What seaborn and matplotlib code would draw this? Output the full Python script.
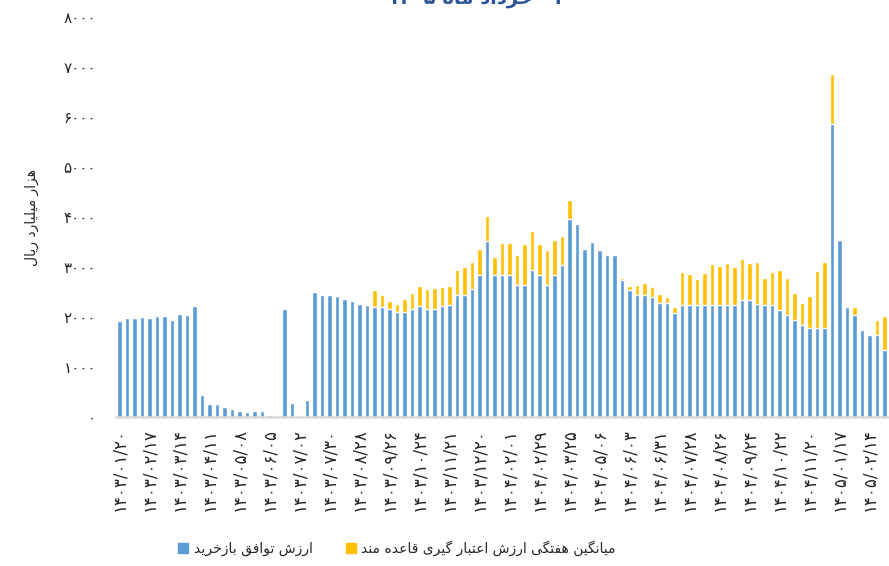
#!/usr/bin/env python3

import numpy as np
import pandas as pd
import seaborn as sns
from matplotlib import pyplot as plt
from matplotlib.patches import Patch


# weekly repo agreement value (blue), thousand billion rials
repo_value = [1920, 1980, 1980, 2000, 1980, 2020, 2030, 1940, 2060, 2040,
              2230, 440, 260, 260, 200, 160, 130, 110, 120, 120,
              50, 20, 2160, 290, 10, 340, 2500, 2440, 2440, 2420,
              2370, 2320, 2270, 2250, 2200, 2200, 2170, 2110, 2110, 2170,
              2220, 2170, 2170, 2220, 2250, 2450, 2450, 2560, 2850, 3530,
              2850, 2850, 2850, 2650, 2650, 2950, 2850, 2650, 2850, 3050,
              3970, 3860, 3360, 3510, 3340, 3250, 3250, 2750, 2550, 2450,
              2450, 2400, 2290, 2290, 2090, 2250, 2250, 2250, 2250, 2250,
              2250, 2250, 2250, 2350, 2350, 2270, 2250, 2250, 2150, 2050,
              1950, 1850, 1790, 1790, 1790, 5860, 3540, 2200, 2050, 1750,
              1650, 1650, 1350]

# weekly average of rule-based credit (yellow, stacked on top)
credit_value = [0] * 34 + [
    340, 250, 160, 150, 260, 310, 400, 390, 410, 390,
    380, 500, 550, 540, 510, 490, 360, 640, 640, 600,
    810, 780, 610, 700, 690, 570, 380, 0, 0, 0,
    15, 15, 15, 30, 80, 190, 230, 200, 170, 110,
    120, 660, 610, 510, 640, 810, 780, 830, 760, 810,
    730, 840, 530, 660, 800, 740, 540, 440, 630, 1130,
    1310, 1000, 0, 0, 160, 0, 0, 300, 670]

# every 4th week gets a date label
date_labels = ['1403/01/20', '1403/02/17', '1403/03/14', '1403/04/11',
               '1403/05/08', '1403/06/05', '1403/07/02', '1403/07/30',
               '1403/08/28', '1403/09/26', '1403/10/24', '1403/11/21',
               '1403/12/20', '1404/02/01', '1404/02/29', '1404/03/25',
               '1404/05/06', '1404/06/03', '1404/06/31', '1404/07/28',
               '1404/08/26', '1404/09/24', '1404/10/22', '1404/11/20',
               '1405/01/17', '1405/02/14']

y_ticks = [0, 1000, 2000, 3000, 4000, 5000, 6000, 7000, 8000]

title_text = '۰۱ خرداد ماه ۱۴۰۵'
ylabel_text = 'هزار میلیارد ریال'
legend_repo = 'ارزش توافق بازخرید'
legend_credit = 'میانگین هفتگی ارزش اعتبار گیری قاعده مند'


# minimal arabic shaping (matplotlib has no bidi / contextual forms)
FORMS = {
    'ا': ('\uFE8D', '\uFE8E', None, None),
    'ب': ('\uFE8F', '\uFE90', '\uFE91', '\uFE92'),
    'ت': ('\uFE95', '\uFE96', '\uFE97', '\uFE98'),
    'خ': ('\uFEA5', '\uFEA6', '\uFEA7', '\uFEA8'),
    'د': ('\uFEA9', '\uFEAA', None, None),
    'ر': ('\uFEAD', '\uFEAE', None, None),
    'ز': ('\uFEAF', '\uFEB0', None, None),
    'ش': ('\uFEB5', '\uFEB6', '\uFEB7', '\uFEB8'),
    'ع': ('\uFEC9', '\uFECA', '\uFECB', '\uFECC'),
    'ف': ('\uFED1', '\uFED2', '\uFED3', '\uFED4'),
    'ق': ('\uFED5', '\uFED6', '\uFED7', '\uFED8'),
    'ل': ('\uFEDD', '\uFEDE', '\uFEDF', '\uFEE0'),
    'م': ('\uFEE1', '\uFEE2', '\uFEE3', '\uFEE4'),
    'ن': ('\uFEE5', '\uFEE6', '\uFEE7', '\uFEE8'),
    'ه': ('\uFEE9', '\uFEEA', '\uFEEB', '\uFEEC'),
    'و': ('\uFEED', '\uFEEE', None, None),
    'ی': ('\uFBFC', '\uFBFD', '\uFBFE', '\uFBFF'),
    'گ': ('\uFB92', '\uFB93', '\uFB94', '\uFB95'),
}

FA_DIGITS = str.maketrans('0123456789', '۰۱۲۳۴۵۶۷۸۹')


def shape_word(word):
    out = []
    for i, ch in enumerate(word):
        if ch not in FORMS:
            out.append(ch)
            continue
        prev = word[i - 1] if i > 0 else None
        nxt = word[i + 1] if i < len(word) - 1 else None
        join_prev = prev in FORMS and FORMS[prev][2] is not None
        join_next = nxt in FORMS and FORMS[ch][2] is not None
        iso, fin, ini, med = FORMS[ch]
        if join_prev and join_next:
            out.append(med)
        elif join_prev:
            out.append(fin)
        elif join_next:
            out.append(ini)
        else:
            out.append(iso)
    return ''.join(out)


def fa(text):
    words = []
    for w in text.split(' '):
        if any(ch in FORMS for ch in w):
            words.append(shape_word(w)[::-1])
        else:
            words.append(w)
    return ' '.join(words[::-1])


def main():
    sns.set_style('white')
    plt.rcParams['font.family'] = ['DejaVu Sans']

    blue = '#5B9BD5'
    yellow = '#FFC000'

    df = pd.DataFrame({'week': np.arange(len(repo_value)),
                       'repo': repo_value,
                       'credit': credit_value})
    df['total'] = df['repo'] + df['credit']

    fig = plt.figure(figsize=(8.89, 5.66), dpi=100)
    ax = fig.add_axes([0.130, 0.263, 0.869, 0.707])

    # stacked: draw totals first, repo on top of them
    sns.barplot(data=df, x='week', y='total', color=yellow, saturation=1,
                width=0.6, ax=ax)
    sns.barplot(data=df, x='week', y='repo', color=blue, saturation=1,
                width=0.6, ax=ax)

    ax.set_xlim(-0.5, len(repo_value) - 0.5)
    ax.set_ylim(0, 8000)
    ax.set_yticks(y_ticks)
    ax.set_yticklabels([str(v).translate(FA_DIGITS) for v in y_ticks],
                       fontsize=11)
    tick_pos = np.arange(0, 4 * len(date_labels), 4)
    ax.set_xticks(tick_pos)
    ax.set_xticklabels([d.translate(FA_DIGITS) for d in date_labels],
                       rotation=90, fontsize=12)
    ax.tick_params(axis='y', length=0, pad=14)
    ax.tick_params(axis='x', length=0, pad=8)
    ax.set_xlabel('')
    ax.set_ylabel(fa(ylabel_text), fontsize=10, labelpad=18)

    for side in ['top', 'right', 'left']:
        ax.spines[side].set_visible(False)
    ax.spines['bottom'].set_color('#D9D9D9')
    ax.spines['bottom'].set_linewidth(1.8)

    fig.text(0.535, 1 - 4 / 566, fa(title_text), ha='center', va='baseline',
             fontsize=14, fontweight='bold', color='#2F5597')

    handles = [Patch(color=blue, label=fa(legend_repo)),
               Patch(color=yellow, label=fa(legend_credit))]
    fig.legend(handles=handles, loc='center', ncol=2, frameon=False,
               bbox_to_anchor=(397 / 889, 1 - 548 / 566), fontsize=10,
               handlelength=0.7, handleheight=0.7, handletextpad=0.4,
               columnspacing=2.4)

    fig.savefig('out.png', dpi=100)


if __name__ == "__main__":
    main()
